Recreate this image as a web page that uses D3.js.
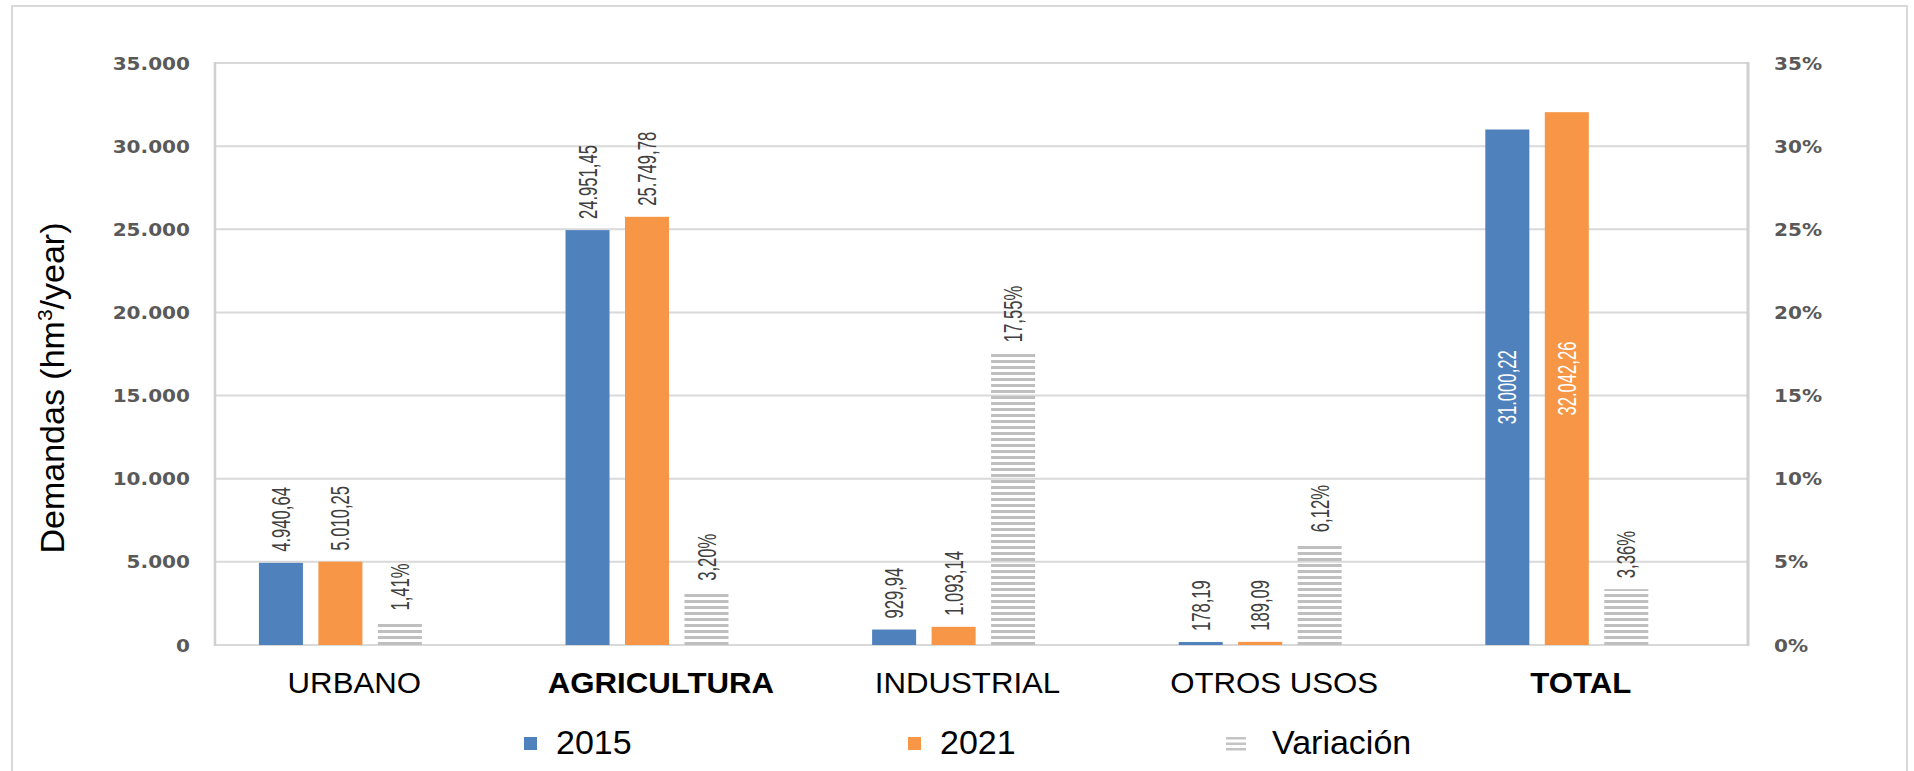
<!DOCTYPE html>
<html>
<head>
<meta charset="utf-8">
<script src="https://cdn.jsdelivr.net/npm/d3@7"></script>
<style>
  html, body { margin: 0; padding: 0; background: #fff; }
  svg { display: block; }
</style>
</head>
<body>
<svg id="chart" width="1914" height="771"></svg>
<script>
// Water demand by use, 2015 vs 2021, with percentage change
const categories = ["URBANO", "AGRICULTURA", "INDUSTRIAL", "OTROS USOS", "TOTAL"];
const boldCategories = ["AGRICULTURA", "TOTAL"];
const demand2015 = [4940.64, 24951.45, 929.94, 178.19, 31000.22];
const demand2021 = [5010.25, 25749.78, 1093.14, 189.09, 32042.26];
const variation = [1.41, 3.20, 17.55, 6.12, 3.36];
const leftTicks = [0, 5000, 10000, 15000, 20000, 25000, 30000, 35000];
const rightTicks = [0, 5, 10, 15, 20, 25, 30, 35];
const seriesNames = ["2015", "2021", "Variación"];
const yTitle = "Demandas (hm";
const yTitleSup = "3";
const yTitleEnd = "/year)";

const colors = { "2015": "#4f81bd", "2021": "#f79646" };
const gridColor = "#d9d9d9";

const locale = d3.formatLocale({ decimal: ",", thousands: ".", grouping: [3], currency: ["", " €"] });
const fmtTick = locale.format(",.0f");
const fmtVal = locale.format(",.2f");
const fmtPct = v => locale.format(".2f")(v) + "%";

const svg = d3.select("#chart");
const W = 1914, H = 771;
const plot = { left: 215, right: 1748, top: 63, bottom: 645 };

svg.append("rect").attr("width", W).attr("height", H).attr("fill", "#fff");

// stripe pattern for the percentage series
const defs = svg.append("defs");
const pat = defs.append("pattern")
  .attr("id", "hstripes")
  .attr("patternUnits", "userSpaceOnUse")
  .attr("width", 6).attr("height", 6)
  .attr("y", plot.bottom);
pat.append("rect").attr("x", 0).attr("y", 3).attr("width", 6).attr("height", 3).attr("fill", "#bfbfbf");

// outer frame
svg.append("rect")
  .attr("x", 12).attr("y", 6).attr("width", 1895).attr("height", 820)
  .attr("fill", "none").attr("stroke", "#d9d9d9").attr("stroke-width", 2);

const x = d3.scaleBand().domain(categories).range([plot.left, plot.right]);
const bw = x.bandwidth();
const xs = d3.scaleBand().domain(seriesNames)
  .range([0.118 * bw, 0.700 * bw])
  .paddingInner(0.26).paddingOuter(0.13);
const yL = d3.scaleLinear().domain([0, 35000]).range([plot.bottom, plot.top]);
const yR = d3.scaleLinear().domain([0, 35]).range([plot.bottom, plot.top]);

// gridlines
svg.append("g").selectAll("line").data(leftTicks).join("line")
  .attr("x1", plot.left).attr("x2", plot.right)
  .attr("y1", d => yL(d)).attr("y2", d => yL(d))
  .attr("stroke", gridColor).attr("stroke-width", 2);

// left and right axis lines
svg.append("line").attr("x1", plot.left).attr("x2", plot.left)
  .attr("y1", plot.top - 1).attr("y2", plot.bottom + 1)
  .attr("stroke", "#d0d0d0").attr("stroke-width", 2.5);
svg.append("line").attr("x1", plot.right).attr("x2", plot.right)
  .attr("y1", plot.top - 1).attr("y2", plot.bottom + 1)
  .attr("stroke", "#d0d0d0").attr("stroke-width", 3);

// tick labels
const tickFont = "'DejaVu Sans', Verdana, sans-serif";
const gL = svg.append("g").attr("transform", `translate(${plot.left},0)`)
  .call(d3.axisLeft(yL).tickValues(leftTicks).tickSize(0).tickFormat(fmtTick));
gL.select(".domain").remove();
gL.selectAll("text")
  .attr("x", 0).attr("dy", "0.36em")
  .attr("transform", "translate(-25,0) scale(1.18,1)")
  .attr("font-family", tickFont).attr("font-weight", "bold")
  .attr("font-size", 17).attr("fill", "#595959");

const gR = svg.append("g").attr("transform", `translate(${plot.right},0)`)
  .call(d3.axisRight(yR).tickValues(rightTicks).tickSize(0).tickFormat(d => d + "%"));
gR.select(".domain").remove();
gR.selectAll("text")
  .attr("x", 0).attr("dy", "0.36em")
  .attr("transform", "translate(26,0) scale(1.18,1)")
  .attr("font-family", tickFont).attr("font-weight", "bold")
  .attr("font-size", 17).attr("fill", "#595959");

// bars
const rows = categories.map((c, i) => ({
  cat: c, v2015: demand2015[i], v2021: demand2021[i], varPct: variation[i]
}));

const groups = svg.append("g").selectAll("g").data(rows).join("g")
  .attr("transform", d => `translate(${x(d.cat)},0)`);

["2015", "2021"].forEach(key => {
  const acc = key === "2015" ? (d => d.v2015) : (d => d.v2021);
  groups.append("rect")
    .attr("x", xs(key)).attr("width", xs.bandwidth())
    .attr("y", d => yL(acc(d)))
    .attr("height", d => yL(0) - yL(acc(d)))
    .attr("fill", colors[key]);
});

groups.append("rect")
  .attr("x", xs("Variación")).attr("width", xs.bandwidth())
  .attr("y", d => yR(d.varPct))
  .attr("height", d => yR(0) - yR(d.varPct))
  .attr("fill", "url(#hstripes)");

// value labels (rotated)
const labelFont = "'Liberation Sans', Arial, sans-serif";
function addLabel(sel, cx, yTop, text, inside) {
  const mid = (yTop + plot.bottom) / 2;
  const ty = inside ? mid : yTop - 11;
  sel.append("g")
    .attr("transform", `translate(${cx},${ty}) rotate(-90) scale(0.82,1.24)`)
    .append("text")
    .attr("text-anchor", inside ? "middle" : "start")
    .attr("dy", "0.36em")
    .attr("font-family", labelFont).attr("font-size", 20.3)
    .attr("fill", inside ? "#ffffff" : "#404040")
    .text(text);
}

groups.each(function(d) {
  const g = d3.select(this);
  const half = xs.bandwidth() / 2;
  [["2015", d.v2015], ["2021", d.v2021]].forEach(([k, v]) => {
    const top = yL(v);
    const inside = top < plot.top + 120;
    addLabel(g, xs(k) + half, top, fmtVal(v), inside);
  });
  addLabel(g, xs("Variación") + half, yR(d.varPct), fmtPct(d.varPct), false);
});

// category labels
svg.append("g").selectAll("text").data(categories).join("text")
  .attr("transform", d => `translate(${x(d) + bw / 2 - 14},693) scale(1.04,1)`)
  .attr("text-anchor", "middle")
  .attr("font-family", labelFont).attr("font-size", 30)
  .attr("font-weight", d => boldCategories.includes(d) ? "bold" : "normal")
  .attr("fill", "#000")
  .text(d => d);

// y-axis title
const yt = svg.append("text")
  .attr("transform", "translate(64,388) rotate(-90)")
  .attr("text-anchor", "middle")
  .attr("font-family", labelFont).attr("font-size", 34)
  .attr("fill", "#000");
yt.append("tspan").text(yTitle);
yt.append("tspan").attr("font-size", 21).attr("dy", -12).text(yTitleSup);
yt.append("tspan").attr("dy", 12).text(yTitleEnd);

// legend
const legendX = [524, 908, 1226];
const legend = svg.append("g").selectAll("g").data(seriesNames).join("g")
  .attr("transform", (d, i) => `translate(${legendX[i]},0)`);
legend.filter(d => d !== "Variación").append("rect")
  .attr("x", 0).attr("y", 737).attr("width", 13).attr("height", 13)
  .attr("fill", d => colors[d]);
legend.filter(d => d === "Variación").selectAll("rect")
  .data([737, 742.5, 748]).join("rect")
  .attr("x", 0).attr("y", d => d).attr("width", 20).attr("height", 2.5)
  .attr("fill", "#c4c4c4");
legend.append("text")
  .attr("x", d => d === "Variación" ? 46 : 32).attr("y", 753.5)
  .attr("font-family", labelFont).attr("font-size", 34)
  .attr("fill", "#000")
  .text(d => d);
</script>
</body>
</html>
